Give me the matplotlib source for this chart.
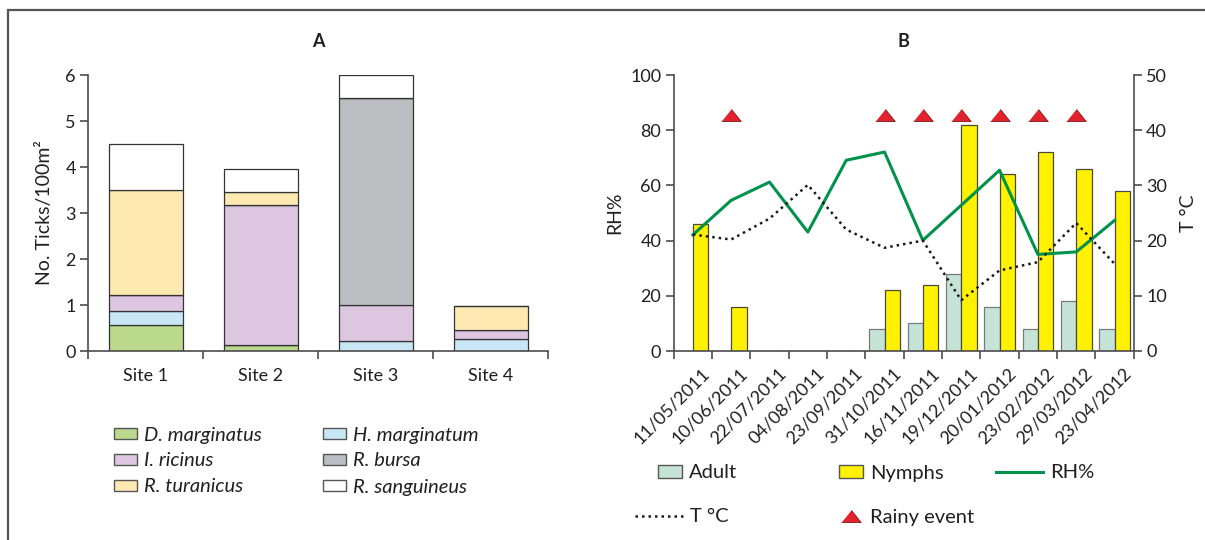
import numpy as np
import matplotlib
matplotlib.use("Agg")
import matplotlib.pyplot as plt
import matplotlib.transforms as mtransforms
from matplotlib.patches import Patch, Rectangle
from matplotlib.lines import Line2D

plt.rcParams["font.family"] = ["Lato", "DejaVu Sans"]

# ---- panel A: tick species per site ----
sites = ["Site 1", "Site 2", "Site 3", "Site 4"]
species = ["D. marginatus", "H. marginatum", "I. ricinus", "R. bursa", "R. turanicus", "R. sanguineus"]
d_marginatus = [0.56, 0.13, 0.0, 0.0]
h_marginatum = [0.32, 0.0, 0.22, 0.27]
i_ricinus = [0.34, 3.05, 0.77, 0.18]
r_bursa = [0.0, 0.0, 4.51, 0.0]
r_turanicus = [2.28, 0.28, 0.0, 0.52]
r_sanguineus = [1.0, 0.50, 0.50, 0.0]
species_colors = ["#bad98d", "#c8e7f4", "#dcc6e0", "#bcbdc0", "#fde9b1", "#ffffff"]

# ---- panel B: sampling dates ----
dates = ["11/05/2011", "10/06/2011", "22/07/2011", "04/08/2011", "23/09/2011", "31/10/2011",
         "16/11/2011", "19/12/2011", "20/01/2012", "23/02/2012", "29/03/2012", "23/04/2012"]
adults = [0, 0, 0, 0, 0, 8, 10, 28, 16, 8, 18, 8]
nymphs = [46, 16, 0, 0, 0, 22, 24, 82, 64, 72, 66, 58]
rh = [42.1, 54.6, 61.2, 43.1, 69.1, 72.1, 40.1, 52.8, 65.5, 35.0, 35.9, 47.3]
temp = [21.1, 20.2, 24.0, 30.1, 22.0, 18.7, 20.0, 9.2, 14.6, 16.1, 23.2, 15.8]
rainy = [0, 1, 0, 0, 0, 1, 1, 1, 1, 1, 1, 0]

RAIN_MARK_Y = 85.5
TXT = "#231f20"
SPINE = "#4d4d4d"
FS = 13        # tick labels
FS_LAB = 14    # axis labels
FS_LEG = 14.5  # legend text
W, H = 1205, 540

fig = plt.figure(figsize=(W / 100, H / 100), dpi=100)

# outer frame
fig.add_artist(Rectangle((8 / W, -0.1), 1.2, 1.1 - 10 / H, transform=fig.transFigure,
                         fill=False, edgecolor="#555555", lw=1.6, clip_on=False))


def style_axis(ax):
    for s in ax.spines.values():
        s.set_color(SPINE)
        s.set_linewidth(1.2)
    ax.tick_params(which="major", direction="out", length=6, width=1.2, color=SPINE,
                   labelsize=FS, labelcolor=TXT, pad=3)


# ---------------- A ----------------
axA = fig.add_axes([88.4 / W, 0.35, 460 / W, 0.5111])
style_axis(axA)
x = np.arange(len(sites))
stack = [d_marginatus, h_marginatum, i_ricinus, r_bursa, r_turanicus, r_sanguineus]
bottom = np.zeros(len(sites))
for vals, col in zip(stack, species_colors):
    vals = np.array(vals)
    axA.bar(x, vals, 0.65, bottom=bottom, color=col, edgecolor="#333333", linewidth=0.9)
    bottom += vals
axA.set_xlim(-0.5, 3.5)
axA.set_ylim(0, 6)
axA.spines["top"].set_visible(False)
axA.spines["right"].set_visible(False)
axA.set_xticks(np.arange(-0.5, 4, 1))
axA.set_xticklabels([])
axA.set_xticks(x, minor=True)
axA.set_xticklabels(sites, minor=True)
axA.tick_params(axis="x", which="minor", length=0, labelsize=FS, labelcolor=TXT, pad=12)
axA.set_yticks(range(0, 7))
axA.set_ylabel("No. Ticks/100m²", fontsize=FS_LAB, color=TXT, labelpad=9)
axA.set_title("A", fontsize=FS, fontweight="bold", color=TXT, pad=20)

# ---------------- B ----------------
axB = fig.add_axes([673.7 / W, 0.35, 460 / W, 0.5111])
style_axis(axB)
xb = np.arange(len(dates))
axB.bar(xb - 0.2, adults, 0.4, color="#c5e4d7", edgecolor="#7a7a7a", linewidth=0.9)
axB.bar(xb + 0.2, nymphs, 0.4, color="#fff100", edgecolor="#4a4a3a", linewidth=0.9)
axB.plot(xb, rh, color="#00924a", lw=2.2, zorder=3)
rain_x = [i for i, r in enumerate(rainy) if r]
tri = [(-1, -0.62), (1, -0.62), (0, 0.62)]
axB.plot(rain_x, [RAIN_MARK_Y] * len(rain_x), linestyle="none", marker=tri, markersize=14,
         markerfacecolor="#e2232e", markeredgecolor="#7a1a1a", markeredgewidth=0.6, zorder=4)
axB.set_xlim(-0.5, 11.5)
axB.set_ylim(0, 100)
axB.spines["top"].set_visible(False)
axB.spines["right"].set_visible(False)
axB.set_xticks(np.arange(-0.5, 12, 1))
axB.set_xticklabels([])
axB.set_xticks(xb, minor=True)
axB.set_xticklabels(dates, minor=True, rotation=45, ha="right", rotation_mode="anchor")
axB.tick_params(axis="x", which="minor", length=0, labelsize=FS, labelcolor=TXT, pad=10)
shift = mtransforms.ScaledTranslation(8 / 100, 0, fig.dpi_scale_trans)
for lab in axB.get_xticklabels(minor=True):
    lab.set_transform(lab.get_transform() + shift)
axB.set_yticks(range(0, 101, 20))
axB.set_ylabel("RH%", fontsize=FS_LAB, color=TXT, labelpad=5)
axB.set_title("B", fontsize=FS, fontweight="bold", color=TXT, pad=20)

ax2 = axB.twinx()
style_axis(ax2)
ax2.spines["top"].set_visible(False)
ax2.spines["left"].set_visible(False)
ax2.spines["bottom"].set_visible(False)
ax2.plot(xb, temp, color="#1a1a1a", lw=1.8, linestyle=(0, (1, 1.6)), zorder=3)
ax2.set_ylim(0, 50)
ax2.set_yticks(range(0, 51, 10))
ax2.set_ylabel("T °C", fontsize=FS_LAB, color=TXT, labelpad=9)

# ---------------- legends ----------------
EM = FS_LEG * 100 / 72


def entry(handle, label, x0, yc, hl_px, hh_px=11, italic=False):
    leg = fig.legend([handle], [label], loc="center left",
                     bbox_to_anchor=(x0 / W, 1 - yc / H), frameon=False,
                     borderpad=0, borderaxespad=0, handlelength=hl_px / EM,
                     handleheight=hh_px / EM, handletextpad=7 / EM,
                     prop={"size": FS_LEG, "style": "italic" if italic else "normal"})
    for t in leg.get_texts():
        t.set_color(TXT)
    return leg


rows = [435, 461, 487]
# first column: D, I, R.tur ; second: H, R.bursa, R.sang
slots = {0: (0, 0), 2: (0, 1), 4: (0, 2), 1: (1, 0), 3: (1, 1), 5: (1, 2)}
for i, (name, col) in enumerate(zip(species, species_colors)):
    c, r = slots[i]
    xpos = [114, 323][c]
    entry(Patch(facecolor=col, edgecolor="#555555", linewidth=1.0), name, xpos, rows[r], 23,
          hh_px=10, italic=True)

entry(Patch(facecolor="#c5e4d7", edgecolor="#555555", linewidth=1.0), "Adult", 658, 473, 24, 13)
entry(Patch(facecolor="#fff100", edgecolor="#555555", linewidth=1.0), "Nymphs", 839, 473, 24, 13)
entry(Line2D([], [], color="#00924a", lw=2.2), "RH%", 996, 473, 47)
entry(Line2D([], [], color="#1a1a1a", lw=1.8, linestyle=(0, (1, 1.6))), "T °C", 635, 517, 48)
entry(Line2D([], [], linestyle="none", marker=tri, markersize=14, markerfacecolor="#e2232e",
             markeredgecolor="#7a1a1a", markeredgewidth=0.6), "Rainy event", 839, 517, 24)

fig.savefig("out.png", dpi=100)
